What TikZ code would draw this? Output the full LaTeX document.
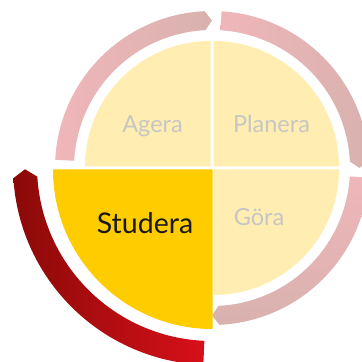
\documentclass[tikz,border=0pt]{standalone}
\usepackage{fontspec}
\setmainfont{Lato}
\definecolor{paleyel}{RGB}{255,237,178}
\definecolor{deepyel}{RGB}{255,204,0}
\definecolor{pinkA}{RGB}{240,182,186}
\definecolor{pinkB}{RGB}{216,178,174}
\definecolor{redA}{RGB}{138,10,8}
\definecolor{redB}{RGB}{216,16,26}
\definecolor{txtgray}{RGB}{198,198,196}
\tikzset{
  quad/.style={fill=paleyel},
  lbl/.style={anchor=base, inner sep=0pt, font=\fontsize{23.5}{28}\selectfont, text=txtgray},
}
\begin{document}
\begin{tikzpicture}[x=1pt,y=1pt]
\clip (0,0) rectangle (362,362);
\fill[white] (0,0) rectangle (362,362);
% pale arcs, centre (212,194)
\begin{scope}[shift={(212,194)}]
  \shade[left color=pinkA, right color=pinkB]
    (177:157) arc[start angle=177, end angle=92.7, radius=157] -- (90:147.5)
    -- (92.7:138) arc[start angle=92.7, end angle=177, radius=138] -- cycle;
  \shade[left color=pinkA, right color=pinkB]
    (86.5:157) arc[start angle=86.5, end angle=2.7, radius=157] -- (0:147.5)
    -- (2.7:138) arc[start angle=2.7, end angle=86.5, radius=138] -- cycle;
  \shade[top color=pinkA, bottom color=pinkB]
    (-3.5:157) arc[start angle=-3.5, end angle=-87.3, radius=157] -- (-90:147.5)
    -- (-87.3:138) arc[start angle=-87.3, end angle=-3.5, radius=138] -- cycle;
\end{scope}
% red arc
\begin{scope}[shift={(212,196)}]
  \shade[left color=redA, right color=redB]
    (267.5:199) arc[start angle=267.5, end angle=183.5, radius=199] -- (181:187)
    -- (183.5:175) arc[start angle=183.5, end angle=267.5, radius=175] -- cycle;
\end{scope}
% quadrants
\fill[quad] (210.5,195.5) -- ++(180:125.5) arc[start angle=180, end angle=90, radius=125.5] -- cycle;
\fill[quad] (213.5,195.5) -- ++(90:125.5) arc[start angle=90, end angle=0, radius=125.5] -- cycle;
\fill[quad] (213.5,192.5) -- ++(0:125.5) arc[start angle=0, end angle=-90, radius=125.5] -- cycle;
\fill[deepyel] (212.5,192.5) -- ++(270:159.5) arc[start angle=270, end angle=180, radius=159.5] -- cycle;
% labels
\node[lbl] (agera) at (152.5,229.5) {Agera};
\node[lbl] (planera) at (271.5,229.5) {Planera};
\node[lbl] (gora) at (259,136) {Göra};
\node[lbl, font=\fontsize{28.5}{32}\selectfont, text=black!90] (studera) at (145,128) {Studera};
\end{tikzpicture}
\end{document}
